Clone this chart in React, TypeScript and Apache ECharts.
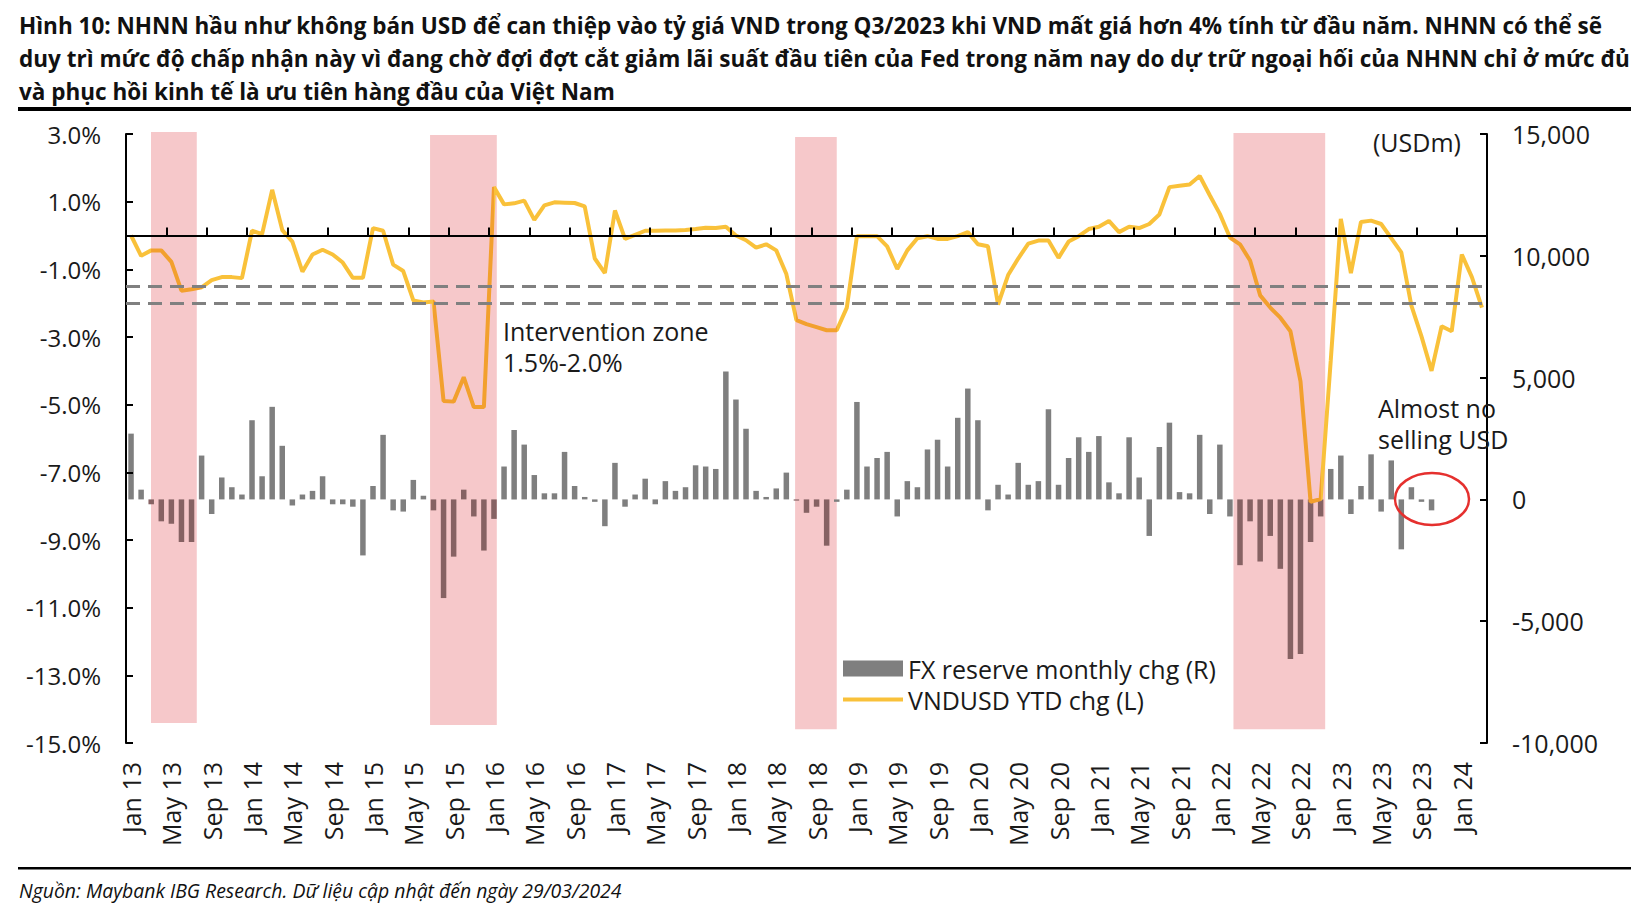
import React, { useEffect, useRef } from 'react';
import * as echarts from 'echarts';

const monthNames = ['Jan', 'Feb', 'Mar', 'Apr', 'May', 'Jun', 'Jul', 'Aug', 'Sep', 'Oct', 'Nov', 'Dec'];
const yearLabels = ['13', '14', '15', '16', '17', '18', '19', '20', '21', '22', '23', '24'];
const categories: string[] = [];
yearLabels.forEach((y) => monthNames.forEach((m) => categories.push(`${m} ${y}`)));
categories.length = 135; // Jan 13 .. Mar 24

// FX reserve monthly change (USDm), right axis
const fxReserve: (number | null)[] = [
  2700, 400, -200, -900, -1000, -1750, -1750, 1800, -600, 900, 500, 200,
  3250, 950, 3800, 2200, -250, 200, 350, 950, -200, -200, -300, -2300,
  550, 2650, -450, -500, 800, 150, -450, -4050, -2350, 400, -700, -2100,
  -800, 1350, 2850, 2250, 1000, 250, 250, 1950, 550, 100, -100, -1100,
  1500, -300, 200, 850, -200, 750, 350, 500, 1400, 1350, 1250, 5250,
  4100, 2900, 350, 100, 450, 1100, -50, -550, -300, -1900, -100, 400,
  4000, 1350, 1700, 1950, -700, 750, 500, 2050, 2450, 1350, 3350, 4550,
  3250, -450, 600, 200, 1500, 600, 750, 3700, 600, 1700, 2550, 1950,
  2600, 700, 250, 2550, 900, -1500, 2150, 3150, 300, 250, 2650, -600,
  2250, -700, -2700, -900, -2550, -1500, -2850, -6550, -6350, -1750, -700, 1250,
  1800, -600, 550, 1850, -500, 1600, -2050, 500, -100, -450, null, null,
  null, null, null,
];

// VNDUSD YTD change (%), left axis
const vndYtd: number[] = [
  0.0, -0.6, -0.44, -0.44, -0.78, -1.63, -1.59, -1.53, -1.32, -1.23, -1.23, -1.26,
  0.14, 0.04, 1.35, 0.16, -0.18, -1.07, -0.56, -0.42, -0.56, -0.8, -1.25, -1.25,
  0.22, 0.14, -0.86, -1.05, -1.92, -1.98, -1.95, -4.89, -4.91, -4.19, -5.07, -5.07,
  1.43, 0.92, 0.95, 1.03, 0.46, 0.89, 0.98, 0.97, 0.96, 0.86, -0.68, -1.11,
  0.74, -0.1, 0.02, 0.14, 0.14, 0.15, 0.15, 0.16, 0.19, 0.23, 0.22, 0.26,
  0.0, -0.14, -0.36, -0.26, -0.44, -1.14, -2.5, -2.62, -2.71, -2.8, -2.8, -2.13,
  -0.02, -0.02, -0.02, -0.32, -0.99, -0.44, -0.08, -0.02, -0.1, -0.1, -0.02, 0.1,
  -0.26, -0.32, -2.04, -1.17, -0.68, -0.24, -0.15, -0.15, -0.66, -0.18, -0.02, 0.19,
  0.26, 0.43, 0.1, 0.26, 0.22, 0.34, 0.62, 1.43, 1.47, 1.51, 1.76, 1.19,
  0.64, -0.06, -0.26, -0.74, -1.77, -2.13, -2.43, -2.83, -4.31, -7.87, -7.79, -3.7,
  0.49, -1.11, 0.4, 0.44, 0.34, -0.08, -0.5, -2.07, -2.98, -4.0, -2.68, -2.83,
  -0.56, -1.23, -2.13,
];

// Intervention zone (%)
const interventionZone = [-1.5, -2.0];

// Shaded periods (category index positions, left-axis % extents)
const bandStart = [1.98, 29.66, 65.87, 109.35];
const bandEnd = [6.52, 36.28, 70.0, 118.45];
const bandTop = [3.06, 2.97, 2.91, 3.03];
const bandBottom = [-14.41, -14.47, -14.59, -14.59];

const titleLines = [
  'Hình 10: NHNN hầu như không bán USD để can thiệp vào tỷ giá VND trong Q3/2023 khi VND mất giá hơn 4% tính từ đầu năm. NHNN có thể sẽ',
  'duy trì mức độ chấp nhận này vì đang chờ đợi đợt cắt giảm lãi suất đầu tiên của Fed trong năm nay do dự trữ ngoại hối của NHNN chỉ ở mức đủ',
  'và phục hồi kinh tế là ưu tiên hàng đầu của Việt Nam',
];
const sourceNote = 'Nguồn: Maybank IBG Research. Dữ liệu cập nhật đến ngày 29/03/2024';

const YELLOW = '#F9C13A';
const ORANGE = '#F2A02E';
const GRAY = '#7F7F7F';
const BROWN = '#866263';
const PINK = '#F6C8CA';
const TEXT = '#1a1a1a';
const FONT = '"Open Sans", "Noto Sans", sans-serif';

const inBand = (i: number) => bandStart.some((s, k) => i > s && i < bandEnd[k]);

export default function App() {
  const ref = useRef<HTMLDivElement>(null);
  useEffect(() => {
    const chart = echarts.init(ref.current!, null, { renderer: 'svg' });
    const ctx = document.createElement('canvas').getContext('2d')!;
    const measure = (font: string, t: string) => {
      ctx.font = font;
      return ctx.measureText(t).width;
    };
    const titleFont = (s: number) => `bold ${s}px ${FONT}`;
    const noteFont = (s: number) => `italic ${s}px ${FONT}`;
    const tW = Math.max(measure(titleFont(100), titleLines[0]), measure(titleFont(100), titleLines[1]));
    const titleSize = Math.min(27, (100 * 1612) / tW);
    const noteSize = Math.min(22, (100 * 603) / measure(noteFont(100), sourceNote));
    const titleY = [25, 58, 91];

    const option: any = {
      animation: false,
      textStyle: { fontFamily: FONT },
      grid: { left: 126, right: 165, top: 134, bottom: 167 },
      legend: {
        left: 841,
        top: 656,
        padding: 0,
        orient: 'vertical',
        itemWidth: 60,
        itemHeight: 16,
        itemGap: 6,
        selectedMode: false,
        textStyle: { fontSize: 25, color: TEXT, fontFamily: FONT },
        data: [
          { name: 'FX reserve monthly chg (R)', icon: 'rect' },
          {
            name: 'VNDUSD YTD chg (L)',
            itemStyle: { opacity: 0 },
            lineStyle: { width: 4, color: YELLOW },
          },
        ],
      },
      xAxis: [
        {
          type: 'category',
          data: categories,
          position: 'bottom',
          boundaryGap: true,
          axisLine: { show: false, onZero: false },
          axisTick: { show: false },
          axisLabel: {
            interval: 3,
            rotate: 90,
            margin: 19,
            fontSize: 25,
            color: TEXT,
            fontFamily: FONT,
          },
          splitLine: { show: false },
        },
        {
          type: 'category',
          data: categories,
          position: 'top',
          boundaryGap: true,
          z: 4,
          axisLine: { show: true, onZero: true, onZeroAxisIndex: 0, lineStyle: { color: '#000', width: 2 } },
          axisTick: { show: true, inside: false, interval: 3, length: 8, lineStyle: { color: '#000', width: 2 } },
          axisLabel: { show: false },
          splitLine: { show: false },
        },
        {
          type: 'value',
          min: -0.5,
          max: 134.5,
          show: false,
          axisLine: { onZero: false },
          splitLine: { show: false },
        },
      ],
      yAxis: [
        {
          type: 'value',
          position: 'left',
          min: -15,
          max: 3,
          interval: 2,
          z: 4,
          axisLine: { show: true, onZero: false, lineStyle: { color: '#000', width: 2 } },
          axisTick: { show: true, inside: true, length: 7, lineStyle: { color: '#000', width: 2 } },
          axisLabel: {
            formatter: (v: number) => v.toFixed(1) + '%',
            fontSize: 24,
            margin: 25,
            color: TEXT,
            fontFamily: FONT,
          },
          splitLine: { show: false },
        },
        {
          type: 'value',
          position: 'right',
          min: -10000,
          max: 15000,
          interval: 5000,
          z: 4,
          axisLine: { show: true, onZero: false, lineStyle: { color: '#000', width: 2 } },
          axisTick: { show: true, inside: true, length: 7, lineStyle: { color: '#000', width: 2 } },
          axisLabel: {
            formatter: (v: number) => v.toLocaleString('en-US'),
            fontSize: 25,
            margin: 25,
            color: TEXT,
            fontFamily: FONT,
          },
          splitLine: { show: false },
        },
      ],
      visualMap: {
        type: 'piecewise',
        show: false,
        seriesIndex: 2,
        dimension: 0,
        pieces: bandStart.map((s, k) => ({ gt: s, lt: bandEnd[k], color: ORANGE })),
        outOfRange: { color: YELLOW },
      },
      series: [
        {
          type: 'custom',
          xAxisIndex: 2,
          yAxisIndex: 0,
          z: 1,
          silent: true,
          encode: { x: [0, 1], y: [2, 3] },
          data: bandStart.map((s, k) => [s, bandEnd[k], bandTop[k], bandBottom[k]]),
          renderItem: (_p: any, api: any) => {
            const p0 = api.coord([api.value(0), api.value(2)]);
            const p1 = api.coord([api.value(1), api.value(3)]);
            return {
              type: 'rect',
              shape: { x: p0[0], y: p0[1], width: p1[0] - p0[0], height: p1[1] - p0[1] },
              style: { fill: PINK },
            };
          },
        },
        {
          type: 'bar',
          name: 'FX reserve monthly chg (R)',
          xAxisIndex: 0,
          yAxisIndex: 1,
          barWidth: 5.5,
          z: 2,
          itemStyle: { color: GRAY },
          data: fxReserve.map((v, i) =>
            v === null ? '-' : { value: v, itemStyle: { color: inBand(i) ? BROWN : GRAY } }
          ),
        },
        {
          type: 'line',
          name: 'VNDUSD YTD chg (L)',
          xAxisIndex: 0,
          yAxisIndex: 0,
          z: 3,
          symbol: 'none',
          itemStyle: { color: YELLOW },
          lineStyle: { width: 4 },
          data: vndYtd,
          markLine: {
            silent: true,
            symbol: ['none', 'none'],
            label: { show: false },
            lineStyle: { color: '#808080', width: 3, type: [14, 8] },
            data: interventionZone.map((v) => ({ yAxis: v })),
          },
        },
      ],
      graphic: [
        ...titleLines.map((t, k) => ({
          type: 'text',
          x: 19,
          y: titleY[k],
          silent: true,
          style: { text: t, font: titleFont(titleSize), fill: '#111', verticalAlign: 'middle' },
        })),
        { type: 'rect', silent: true, shape: { x: 18, y: 107, width: 1613, height: 4 }, style: { fill: '#000' } },
        { type: 'rect', silent: true, shape: { x: 18, y: 867, width: 1613, height: 2.5 }, style: { fill: '#000' } },
        {
          type: 'text',
          x: 19,
          y: 890,
          silent: true,
          style: { text: sourceNote, font: noteFont(noteSize), fill: '#111', verticalAlign: 'middle' },
        },
        {
          type: 'text', x: 503, y: 346, silent: true, z: 10,
          style: {
            text: 'Intervention zone\n1.5%-2.0%',
            font: `25px ${FONT}`,
            lineHeight: 31,
            fill: TEXT,
            verticalAlign: 'middle',
          },
        },
        {
          type: 'text', x: 1373, y: 142, silent: true, z: 10,
          style: { text: '(USDm)', font: `25px ${FONT}`, fill: TEXT, verticalAlign: 'middle' },
        },
        {
          type: 'text', x: 1378, y: 423, silent: true, z: 10,
          style: {
            text: 'Almost no\nselling USD',
            font: `25px ${FONT}`,
            lineHeight: 31,
            fill: TEXT,
            verticalAlign: 'middle',
          },
        },
        {
          type: 'ellipse', silent: true, z: 10,
          shape: { cx: 1432, cy: 499, rx: 37, ry: 26 },
          style: { fill: 'none', stroke: '#E5302E', lineWidth: 2.5 },
        },
      ],
    };
    chart.setOption(option);
    return () => chart.dispose();
  }, []);
  return (
    <div
      ref={ref}
      style={{ position: 'absolute', left: 0, top: 0, width: 1652, height: 910, background: '#fff' }}
    />
  );
}
